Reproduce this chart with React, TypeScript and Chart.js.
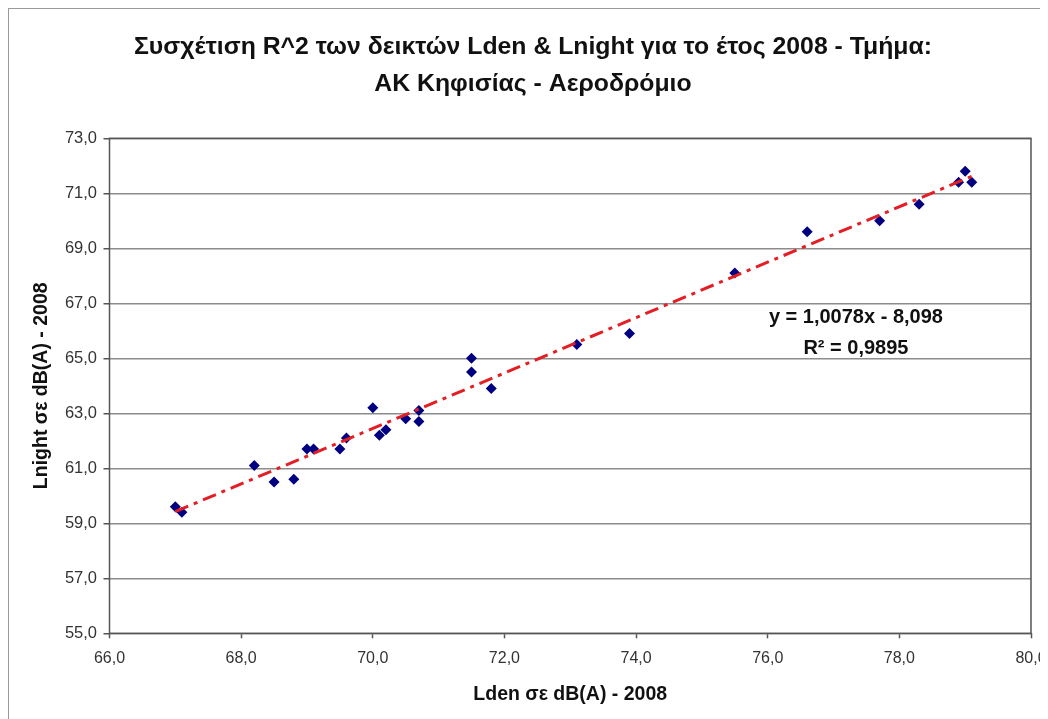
import React, { useEffect, useRef } from "react";
import { Chart, registerables } from "chart.js";

Chart.register(...registerables);

const titleLines = [
  "Συσχέτιση R^2 των δεικτών Lden & Lnight για το έτος 2008 - Τμήμα:",
  "ΑΚ Κηφισίας - Αεροδρόμιο",
];
const xAxisTitle = "Lden σε dB(A) - 2008";
const yAxisTitle = "Lnight σε dB(A) - 2008";

const ldenValues = [
  67.0, 67.1, 68.2, 68.5, 68.8, 69.0, 69.1, 69.5, 69.6, 70.0, 70.1, 70.2, 70.5, 70.7,
  70.7, 71.5, 71.5, 71.8, 73.1, 73.9, 75.5, 76.6, 77.7, 78.3, 78.9, 79.0, 79.1,
];
const lnightValues = [
  59.6, 59.4, 61.1, 60.5, 60.6, 61.7, 61.7, 61.7, 62.1, 63.2, 62.2, 62.4, 62.8, 62.7,
  63.1, 64.5, 65.0, 63.9, 65.5, 65.9, 68.1, 69.6, 70.0, 70.6, 71.4, 71.8, 71.4,
];

const trendSlope = 1.0078;
const trendIntercept = -8.098;
const trendXRange = [67.0, 79.1];
const equationLines = ["y = 1,0078x - 8,098", "R² = 0,9895"];

const xMin = 66, xMax = 80, xStep = 2;
const yMin = 55, yMax = 73, yStep = 2;

const FONT = "'Liberation Sans', Arial, Helvetica, sans-serif";
const fmt = (v: number) => v.toFixed(1).replace(".", ",");

const decorPlugin = {
  id: "decor",
  afterDraw(chart: any) {
    const { ctx, chartArea } = chart;
    const { left, top, right, bottom } = chartArea;
    ctx.save();
    // plot-area frame
    ctx.strokeStyle = "#555555";
    ctx.lineWidth = 1.5;
    ctx.strokeRect(left, top, right - left, bottom - top);
    // chart title
    ctx.fillStyle = "#111111";
    ctx.textAlign = "center";
    ctx.textBaseline = "middle";
    ctx.font = `bold 24.8px ${FONT}`;
    ctx.fillText(titleLines[0], 524, 38);
    ctx.fillText(titleLines[1], 524, 75);
    // trendline equation
    ctx.font = `bold 20px ${FONT}`;
    const cx = left + (right - left) * 0.81;
    ctx.fillText(equationLines[0], cx, top + (bottom - top) * 0.361);
    ctx.fillText(equationLines[1], cx, top + (bottom - top) * 0.424);
    ctx.restore();
  },
};

export default function App() {
  const ref = useRef<HTMLCanvasElement | null>(null);
  useEffect(() => {
    if (!ref.current) return;
    const points = ldenValues.map((x, i) => ({ x, y: lnightValues[i] }));
    const trend = trendXRange.map((x) => ({ x, y: trendSlope * x + trendIntercept }));
    const chart = new Chart(ref.current, {
      type: "scatter",
      data: {
        datasets: [
          {
            type: "line",
            label: "trend",
            data: trend,
            borderColor: "#e31e24",
            borderWidth: 3,
            borderDash: [14, 6, 4, 6],
            pointRadius: 0,
            fill: false,
            order: 0,
          } as any,
          {
            label: "data",
            data: points,
            pointStyle: "rectRot",
            pointRadius: 5.5,
            backgroundColor: "#000080",
            borderColor: "#000080",
            borderWidth: 0,
            order: 1,
          },
        ],
      },
      options: {
        responsive: false,
        animation: false,
        devicePixelRatio: 1,
        layout: { padding: { left: 0, right: 17, top: 129.3, bottom: 0 }, autoPadding: false } as any,
        plugins: {
          legend: { display: false },
          tooltip: { enabled: false },
          title: { display: false },
        },
        scales: {
          x: {
            type: "linear",
            min: xMin,
            max: xMax,
            afterFit: (s: any) => {
              s.height = 85.7;
              s.paddingLeft = 0;
              s.paddingRight = 0;
            },
            ticks: {
              stepSize: xStep,
              callback: (v: any) => fmt(Number(v)),
              color: "#333333",
              font: { family: FONT, size: 16 },
              padding: 11,
              maxRotation: 0,
            },
            grid: {
              drawOnChartArea: false,
              drawTicks: true,
              tickLength: 5,
              tickColor: "#555555",
              tickWidth: 1.5,
            },
            border: { display: false },
            title: {
              display: true,
              text: xAxisTitle,
              color: "#111111",
              font: { family: FONT, size: 19.5, weight: "bold", lineHeight: 1.2 },
              padding: { top: 0, bottom: 12.3 },
            },
          },
          y: {
            type: "linear",
            min: yMin,
            max: yMax,
            afterFit: (s: any) => {
              s.width = 100.5;
              s.paddingTop = 0;
              s.paddingBottom = 0;
            },
            ticks: {
              stepSize: yStep,
              callback: (v: any) => fmt(Number(v)),
              color: "#333333",
              font: { family: FONT, size: 16.5 },
              padding: 6.5,
            },
            grid: {
              color: "#8c8c8c",
              lineWidth: 1.5,
              drawTicks: true,
              tickLength: 6,
              tickColor: "#555555",
              tickWidth: 1.5,
            },
            border: { display: false },
            title: {
              display: true,
              text: yAxisTitle,
              color: "#111111",
              font: { family: FONT, size: 19.5, weight: "bold", lineHeight: 1.2 },
              padding: { top: 21, bottom: 0 },
            },
          },
        },
      } as any,
      plugins: [decorPlugin],
    });
    return () => chart.destroy();
  }, []);

  return (
    <div
      style={{
        width: 1040,
        height: 711,
        boxSizing: "border-box",
        borderTop: "1px solid #9a9a9a",
        borderLeft: "1px solid #9a9a9a",
        background: "#ffffff",
        overflow: "hidden",
      }}
    >
      <style>{"html,body{overflow:hidden;}"}</style>
      <canvas ref={ref} width={1039} height={710} style={{ display: "block" }} />
    </div>
  );
}
